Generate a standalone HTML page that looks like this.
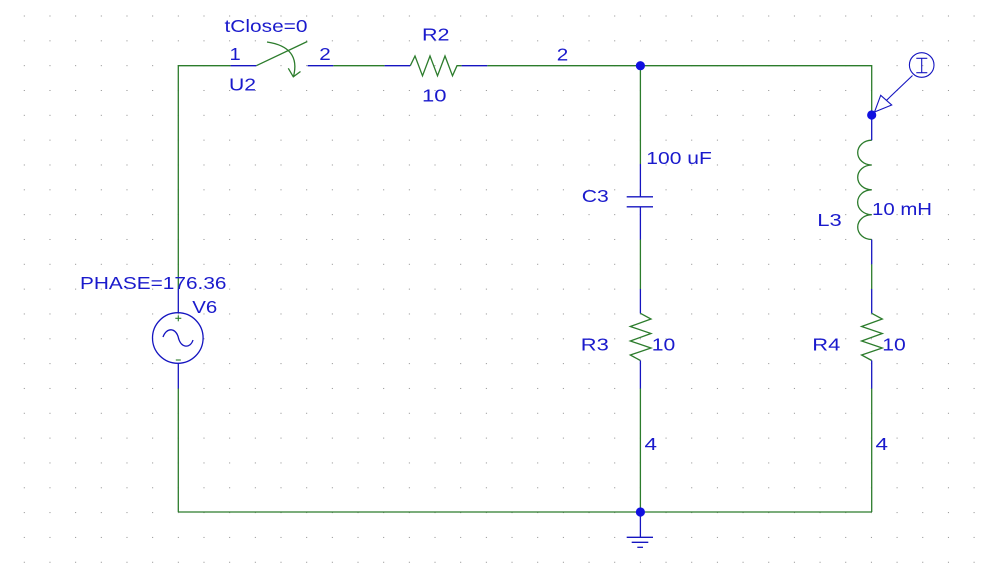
<!DOCTYPE html>
<html><head><meta charset="utf-8"><style>
html,body{margin:0;padding:0;background:#fff;}
svg{display:block;}
text{font-family:"Liberation Sans",Arial,sans-serif;font-size:17.5px;fill:#1a1acc;}
</style></head><body>
<svg width="989" height="567" viewBox="0 0 989 567" xmlns="http://www.w3.org/2000/svg">
<defs>
<pattern id="g" x="23.8" y="15.5" width="25.67" height="24.83" patternUnits="userSpaceOnUse">
<rect x="0" y="0" width="1" height="1" fill="#8c8c8c"/>
</pattern>
</defs>
<rect width="989" height="567" fill="#fff"/>
<rect width="989" height="567" fill="url(#g)"/>

<g fill="none" stroke-width="1.3">
<!-- green wires -->
<g stroke="#2c7c2c">
<polyline points="178.3,289 178.3,65.7 230.6,65.7"/>
<line x1="333.3" y1="65.7" x2="384.6" y2="65.7"/>
<polyline points="487.3,65.7 871.7,65.7 871.7,115"/>
<line x1="178.3" y1="388.5" x2="178.3" y2="512"/>
<line x1="178.3" y1="512" x2="871.7" y2="512"/>
<line x1="871.7" y1="512" x2="871.7" y2="388.5"/>
<line x1="640.4" y1="65.7" x2="640.4" y2="164"/>
<line x1="640.4" y1="239.5" x2="640.4" y2="289"/>
<line x1="640.4" y1="388.5" x2="640.4" y2="512"/>
<line x1="871.7" y1="264.3" x2="871.7" y2="289"/>
<!-- switch arm -->
<line x1="256.3" y1="65.7" x2="307.3" y2="41.5"/>
<path d="M267 42 Q301 47 293.5 76.5"/>
<polyline points="288.3,68.3 293.3,76.8 300.5,71.5"/>
<!-- resistors -->
<polyline points="410.3,65.7 415,56 422.5,75.8 430,56 437.5,75.8 445,56 452.5,75.8 457,65.7 461.6,65.7"/>
<polyline points="640.4,313.3 651,319 630.3,326.5 651,333.5 630.3,341 651,348 630.3,355 640.4,360.5"/>
<polyline points="871.7,313.3 882.3,319 861.6,326.5 882.3,333.5 861.6,341 882.3,348 861.6,355 871.7,360.5"/>
<!-- inductor -->
<path d="M871.7 140.2 A14 12.4 0 0 0 871.7 165 A14 12.4 0 0 0 871.7 189.8 A14 12.4 0 0 0 871.7 214.7 A14 12.4 0 0 0 871.7 239.5"/>
</g>
<!-- blue pins -->
<g stroke="#1515c0">
<line x1="230.6" y1="65.7" x2="256.3" y2="65.7"/>
<line x1="307.6" y1="65.7" x2="333.3" y2="65.7"/>
<line x1="384.6" y1="65.7" x2="410.3" y2="65.7"/>
<line x1="461.6" y1="65.7" x2="487.3" y2="65.7"/>
<line x1="640.4" y1="164" x2="640.4" y2="196.8"/>
<line x1="640.4" y1="206.8" x2="640.4" y2="239.5"/>
<line x1="626.7" y1="196.8" x2="653" y2="196.8"/>
<line x1="626.7" y1="206.8" x2="653" y2="206.8"/>
<line x1="640.4" y1="289" x2="640.4" y2="313.3"/>
<line x1="640.4" y1="360.5" x2="640.4" y2="388.5"/>
<line x1="871.7" y1="115" x2="871.7" y2="140.2"/>
<line x1="871.7" y1="239.5" x2="871.7" y2="264.3"/>
<line x1="871.7" y1="289" x2="871.7" y2="313.3"/>
<line x1="871.7" y1="360.5" x2="871.7" y2="388.5"/>
<line x1="178.3" y1="289" x2="178.3" y2="312.7"/>
<line x1="178.3" y1="363.3" x2="178.3" y2="388.5"/>
<circle cx="177.8" cy="338" r="25.3"/>
<path d="M163 337 C166.5 327 176 327.5 178.5 338 C181 348.5 190.5 348.5 193 340"/>
<!-- ground -->
<line x1="640.4" y1="512" x2="640.4" y2="537.3"/>
<line x1="626.7" y1="537.3" x2="653" y2="537.3"/>
<line x1="631.7" y1="542.3" x2="648.3" y2="542.3"/>
<line x1="637.3" y1="547.3" x2="643" y2="547.3"/>
<!-- probe -->
<circle cx="921.7" cy="65" r="12.3" stroke-width="1.1"/>
<line x1="921.7" y1="58.3" x2="921.7" y2="72.7" stroke-width="1.1"/>
<line x1="916.3" y1="58.3" x2="927.3" y2="58.3" stroke-width="1.1"/>
<line x1="916.3" y1="72.7" x2="927.3" y2="72.7" stroke-width="1.1"/>
<line x1="912.5" y1="75.5" x2="886.5" y2="100.3" stroke-width="1.1"/>
<polygon points="880.7,95.3 891.7,105 874.5,112" stroke-width="1.1" fill="#fff"/>
</g>
<!-- plus / minus on source -->
<g stroke="#2c7c2c" stroke-width="1.1">
<line x1="175.3" y1="318.3" x2="181.3" y2="318.3"/>
<line x1="178.3" y1="315.3" x2="178.3" y2="321.3"/>
<line x1="175.8" y1="360" x2="180.8" y2="360"/>
</g>
<!-- node dots -->
<g fill="#1010e0">
<circle cx="640.4" cy="65.7" r="4.6"/>
<circle cx="871.7" cy="115" r="4.6"/>
<circle cx="640.4" cy="512" r="4.6"/>
</g>

<!-- labels -->
<text x="224.5" y="32" textLength="83" lengthAdjust="spacingAndGlyphs">tClose=0</text>
<text x="229.5" y="60" textLength="11.2" lengthAdjust="spacingAndGlyphs">1</text>
<text x="229" y="90.5" textLength="27" lengthAdjust="spacingAndGlyphs">U2</text>
<text x="319.3" y="60" textLength="11.5" lengthAdjust="spacingAndGlyphs">2</text>
<text x="422" y="40.5" textLength="27.5" lengthAdjust="spacingAndGlyphs">R2</text>
<text x="422" y="101.5" textLength="24.5" lengthAdjust="spacingAndGlyphs">10</text>
<text x="556.8" y="60.5" textLength="11.5" lengthAdjust="spacingAndGlyphs">2</text>
<text x="646.3" y="164" textLength="65.5" lengthAdjust="spacingAndGlyphs">100 uF</text>
<text x="581.8" y="202" textLength="27" lengthAdjust="spacingAndGlyphs">C3</text>
<text x="872" y="215" textLength="60" lengthAdjust="spacingAndGlyphs">10 mH</text>
<text x="817.3" y="226" textLength="24.5" lengthAdjust="spacingAndGlyphs">L3</text>
<text x="580.8" y="350.5" textLength="28" lengthAdjust="spacingAndGlyphs">R3</text>
<text x="651.8" y="350.5" textLength="23.5" lengthAdjust="spacingAndGlyphs">10</text>
<text x="812.3" y="350.5" textLength="28" lengthAdjust="spacingAndGlyphs">R4</text>
<text x="882.3" y="350.5" textLength="23.5" lengthAdjust="spacingAndGlyphs">10</text>
<text x="644.5" y="450" textLength="12.5" lengthAdjust="spacingAndGlyphs">4</text>
<text x="875.5" y="450" textLength="12.5" lengthAdjust="spacingAndGlyphs">4</text>
<text x="80" y="289" textLength="146.5" lengthAdjust="spacingAndGlyphs">PHASE=176.36</text>
<text x="192.3" y="313" textLength="25" lengthAdjust="spacingAndGlyphs">V6</text>
</svg>
</body></html>
